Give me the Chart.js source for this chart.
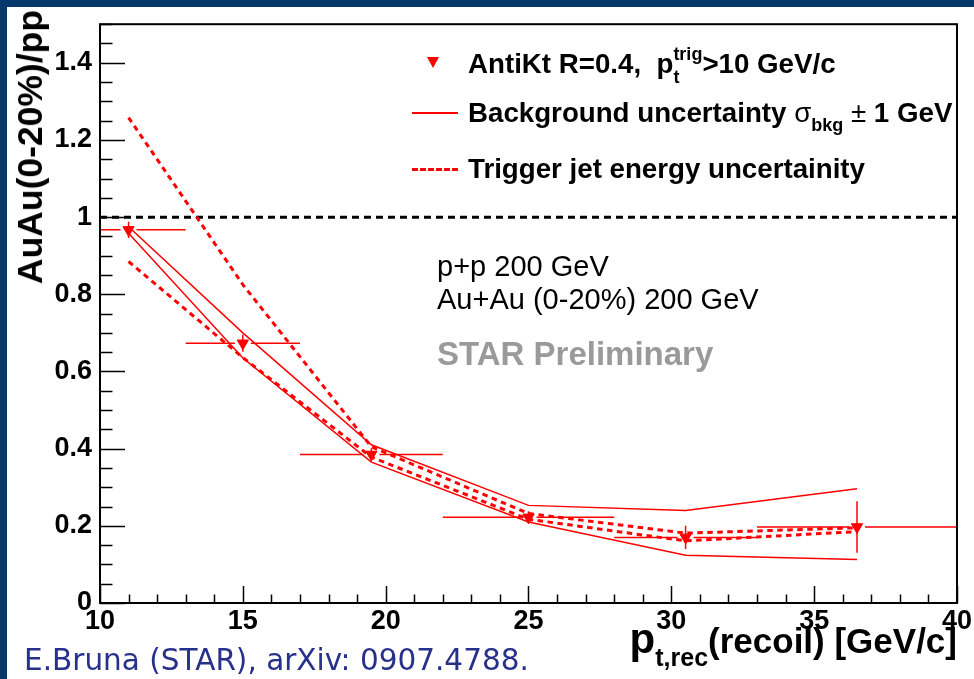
<!DOCTYPE html>
<html>
<head>
<meta charset="utf-8">
<title>AuAu(0-20%)/pp recoil jets</title>
<script src="https://cdn.jsdelivr.net/npm/chart.js@4.4.1/dist/chart.umd.min.js"></script>
<style>
    html, body { margin: 0; padding: 0; }
    body {
        width: 974px; height: 679px; position: relative; overflow: hidden;
        background: #07386b;
        font-family: "Liberation Sans", Arial, Helvetica, sans-serif;
    }
    #sheet { position: absolute; left: 7px; top: 7px; width: 967px; height: 672px; background: #fff; }
    #chartBox { position: absolute; left: 0; top: 0; width: 974px; height: 679px; }
    .txt { position: absolute; white-space: nowrap; line-height: 1; color: #000; }
    .leg { font-size: 27.7px; font-weight: bold; }
    .stk { display: inline-block; vertical-align: middle; font-size: 18px; line-height: 23px; }
    .stk span { display: block; }
    .sym { font-weight: normal; }
    .leg sub { font-size: 18px; vertical-align: -0.5em; }
    .mk { position: absolute; }
    #ytitle { left: 13px; top: 10px; font-size: 35.5px; font-weight: bold; transform-origin: top left; transform: rotate(-90deg) translateX(-100%); }
    #xtitle { right: 17px; top: 618px; font-size: 35px; font-weight: bold; }
    #xtitle .pbig { font-size: 42px; }
    #xtitle sub { font-size: 25px; vertical-align: -0.5em; }
    .note { font-size: 29px; }
    #prelim { font-size: 33px; font-weight: bold; color: #9a9a9a; }
    #cite { left: 24px; top: 646px; font-size: 29.5px; color: #27308a; font-family: "DejaVu Sans", Verdana, sans-serif; }
</style>
</head>
<body>
<div id="sheet"></div>
<div id="chartBox"><canvas id="ratioChart" width="974" height="679"></canvas></div>

<!-- legend -->
<div class="mk" style="left:427px; top:57px; width:0; height:0; border-left:6px solid transparent; border-right:6px solid transparent; border-top:11px solid red;"></div>
<div class="txt leg" style="left:468px; top:43px;">AntiKt R=0.4,&nbsp; p<span class="stk"><span>trig</span><span>t</span></span>&gt;10 GeV/c</div>
<div class="mk" style="left:412px; top:112px; width:46px; height:2px; background:red;"></div>
<div class="txt leg" style="left:468px; top:99px;">Background uncertainty <span class="sym">σ</span><sub>bkg</sub><span class="sym"> ± </span>1 GeV</div>
<div class="mk" style="left:412px; top:168px; width:46px; height:0; border-top:3px dashed red;"></div>
<div class="txt leg" style="left:468px; top:155px;">Trigger jet energy uncertainity</div>

<!-- annotations -->
<div class="txt note" style="left:437px; top:252px;">p+p 200 GeV</div>
<div class="txt note" style="left:437px; top:285px;">Au+Au (0-20%) 200 GeV</div>
<div class="txt" id="prelim" style="left:437px; top:337px;">STAR Preliminary</div>

<!-- axis titles -->
<div class="txt" id="ytitle">AuAu(0-20%)/pp</div>
<div class="txt" id="xtitle"><span class="pbig">p</span><sub>t,rec</sub>(recoil) [GeV/c]</div>

<div class="txt" id="cite">E.Bruna (STAR), arXiv: 0907.4788.</div>

<script>
// Data
const ptRec = [11, 15, 19.5, 25, 30.5, 36.5];
const ratio = [0.967, 0.673, 0.385, 0.222, 0.170, 0.197];
const statErr = [0.021, 0.022, 0.016, 0.016, 0.030, 0.067];
const ptLow = [9, 13, 17, 22, 28, 33];
const ptHigh = [13, 17, 22, 28, 33, 40];

// background fluctuation band (sigma_bkg +- 1 GeV)
const bkgHigh = [0.975, 0.700, 0.410, 0.253, 0.240, 0.296];
const bkgLow = [0.958, 0.635, 0.365, 0.210, 0.124, 0.113];

// trigger jet energy scale band
const jesHigh = [1.258, 0.825, 0.405, 0.232, 0.181, 0.195];
const jesLow = [0.885, 0.636, 0.378, 0.217, 0.161, 0.185];

// axes
const xRange = [10, 40];
const yRange = [0, 1.5];
const xTicks = [10, 15, 20, 25, 30, 35, 40];
const yTicks = [0, 0.2, 0.4, 0.6, 0.8, 1, 1.2, 1.4];
const unity = 1;

const red = '#ff0000';
const tickFont = { family: '"Liberation Sans", Arial, Helvetica, sans-serif', weight: 'bold', size: 27 };

function toXY(ys) {
    return ptRec.map((x, i) => ({ x: x, y: ys[i] }));
}

// ROOT-like frame with inward major/minor ticks
const rootFrame = {
    id: 'rootFrame',
    afterDraw(chart) {
        const { ctx, chartArea: a, scales: { x, y } } = chart;
        ctx.save();
        ctx.strokeStyle = '#000';
        ctx.lineWidth = 2;
        ctx.strokeRect(a.left, a.top, a.width, a.height);
        ctx.lineWidth = 1.5;
        ctx.beginPath();
        // y ticks
        for (let v = yRange[0]; v <= yRange[1] + 1e-9; v += 0.05) {
            const py = Math.round(y.getPixelForValue(v)) + 0.5;
            const major = yTicks.some(t => Math.abs(t - v) < 1e-6);
            ctx.moveTo(a.left, py);
            ctx.lineTo(a.left + (major ? 25 : 12.5), py);
        }
        // x ticks
        for (let v = xRange[0]; v <= xRange[1]; v += 1) {
            const px = Math.round(x.getPixelForValue(v)) + 0.5;
            const major = xTicks.includes(v);
            ctx.moveTo(px, a.bottom);
            ctx.lineTo(px, a.bottom - (major ? 17 : 8.5));
        }
        ctx.stroke();
        ctx.restore();
    }
};

// horizontal bin-width bars and vertical stat errors
const errorBars = {
    id: 'errorBars',
    afterDatasetsDraw(chart) {
        const { ctx, chartArea: a, scales: { x, y } } = chart;
        ctx.save();
        ctx.beginPath();
        ctx.rect(a.left, a.top, a.width, a.height);
        ctx.clip();
        ctx.strokeStyle = red;
        ctx.lineWidth = 1.5;
        ptRec.forEach((pt, i) => {
            const px = x.getPixelForValue(pt);
            const py = y.getPixelForValue(ratio[i]);
            const gap = 8;
            ctx.beginPath();
            ctx.moveTo(x.getPixelForValue(ptLow[i]), py);
            ctx.lineTo(px - gap, py);
            ctx.moveTo(px + gap, py);
            ctx.lineTo(x.getPixelForValue(ptHigh[i]), py);
            ctx.moveTo(px, y.getPixelForValue(ratio[i] + statErr[i]));
            ctx.lineTo(px, y.getPixelForValue(ratio[i] - statErr[i]));
            ctx.stroke();
        });
        ctx.restore();
    }
};

const lineDefaults = { pointRadius: 0, tension: 0, fill: false, borderCapStyle: 'butt' };

new Chart(document.getElementById('ratioChart'), {
    type: 'line',
    data: {
        datasets: [
            {
                label: 'AntiKt R=0.4',
                data: toXY(ratio),
                showLine: false,
                pointStyle: 'triangle',
                rotation: 180,
                pointRadius: 6.5,
                pointBackgroundColor: red,
                pointBorderColor: red,
                pointBorderWidth: 1
            },
            { ...lineDefaults, label: 'bkg high', data: toXY(bkgHigh), borderColor: red, borderWidth: 1.5 },
            { ...lineDefaults, label: 'bkg low', data: toXY(bkgLow), borderColor: red, borderWidth: 1.5 },
            { ...lineDefaults, label: 'jes high', data: toXY(jesHigh), borderColor: red, borderWidth: 3, borderDash: [5.5, 4.5] },
            { ...lineDefaults, label: 'jes low', data: toXY(jesLow), borderColor: red, borderWidth: 3, borderDash: [5.5, 4.5] },
            {
                ...lineDefaults,
                label: 'unity',
                data: xRange.map(v => ({ x: v, y: unity })),
                borderColor: '#000',
                borderWidth: 3,
                borderDash: [7, 5]
            }
        ]
    },
    options: {
        responsive: false,
        animation: false,
        events: [],
        layout: { padding: { top: 22, right: 16, left: 0, bottom: 0 } },
        plugins: {
            legend: { display: false },
            tooltip: { enabled: false }
        },
        scales: {
            x: {
                type: 'linear',
                min: xRange[0],
                max: xRange[1],
                afterBuildTicks: (scale) => { scale.ticks = xTicks.map(v => ({ value: v })); },
                afterFit: (scale) => { scale.height = 76; },
                grid: { display: false, drawTicks: false },
                border: { display: false },
                ticks: { color: '#000', font: tickFont, padding: 2, maxRotation: 0, autoSkip: false }
            },
            y: {
                type: 'linear',
                min: yRange[0],
                max: yRange[1],
                afterBuildTicks: (scale) => { scale.ticks = yTicks.map(v => ({ value: v })); },
                afterFit: (scale) => { scale.width = 100; },
                grid: { display: false, drawTicks: false },
                border: { display: false },
                ticks: {
                    color: '#000',
                    font: tickFont,
                    padding: 8,
                    autoSkip: false,
                    callback: (v) => String(Math.round(v * 10) / 10)
                }
            }
        }
    },
    plugins: [errorBars, rootFrame]
});
</script>
</body>
</html>
